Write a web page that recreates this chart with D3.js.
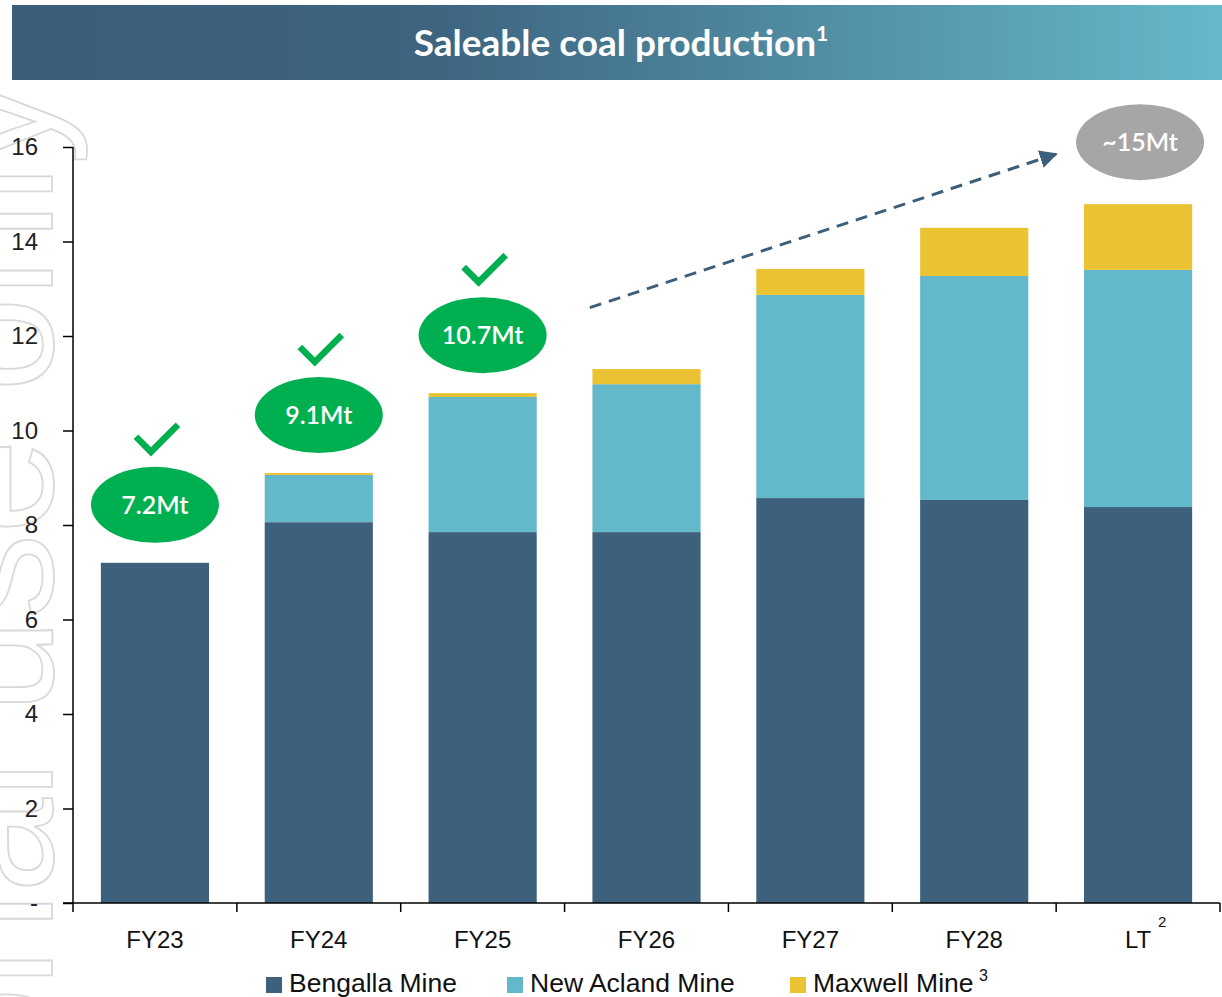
<!DOCTYPE html>
<html>
<head>
<meta charset="utf-8">
<script src="https://cdn.jsdelivr.net/npm/d3@7"></script>
<style>
  body { margin: 0; background: #fff; }
  svg { display: block; }
</style>
</head>
<body>
<script>
// chart data
var categories = ["FY23", "FY24", "FY25", "FY26", "FY27", "FY28", "LT"];
var bengalla   = [7.2, 8.06, 7.85, 7.85, 8.57, 8.53, 8.38];
var newAcland  = [0, 1.0, 2.86, 3.13, 4.30, 4.74, 5.02];
var maxwell    = [0, 0.04, 0.08, 0.32, 0.55, 1.02, 1.39];
var seriesNames = ["Bengalla Mine", "New Acland Mine", "Maxwell Mine"];
var seriesKeys = ["bengalla", "newAcland", "maxwell"];
var yTicks = [0, 2, 4, 6, 8, 10, 12, 14, 16];
var doneLabels = ["7.2Mt", "9.1Mt", "10.7Mt"];   // first three years, achieved
var targetLabel = "~15Mt";

var colors = { bengalla: "#3d617c", newAcland: "#63b8c9", maxwell: "#ebc232" };

var W = 1222, H = 997;
var svg = d3.select("body").append("svg").attr("width", W).attr("height", H);

// watermark (cut off by the left edge, as in the source)
svg.append("text")
  .attr("transform", "translate(52,80) rotate(-90)")
  .attr("text-anchor", "end")
  .style("font-family", "Liberation Sans, Arial, sans-serif")
  .style("font-size", "170px")
  .attr("fill", "none")
  .attr("stroke", "#d9d9d9")
  .attr("stroke-width", 1.8)
  .text("For personal use only");

// title bar
var grad = svg.append("defs").append("linearGradient").attr("id", "tg");
grad.append("stop").attr("offset", "0%").attr("stop-color", "#3c5d78");
grad.append("stop").attr("offset", "35%").attr("stop-color", "#3e6480");
grad.append("stop").attr("offset", "100%").attr("stop-color", "#65b9ca");
svg.append("rect").attr("x", 12).attr("y", 5).attr("width", W - 12).attr("height", 75)
  .attr("fill", "url(#tg)");
var title = svg.append("text")
  .attr("x", 621).attr("y", 56)
  .attr("text-anchor", "middle")
  .style("font-family", "Lato, sans-serif")
  .style("font-weight", "bold")
  .style("font-size", "37px")
  .attr("fill", "#fff");
title.append("tspan").text("Saleable coal production");
title.append("tspan").attr("dy", -15).style("font-size", "21px").text("1");

// scales
var x = d3.scaleBand().domain(categories).range([73, 1220])
  .paddingInner(0.34).paddingOuter(0.17);
var y = d3.scaleLinear().domain([0, 16]).range([903, 147]);
var xu = d3.scaleLinear().domain([0, categories.length]).range(x.range()); // band units

var rows = categories.map(function(c, i) {
  return { cat: c, bengalla: bengalla[i], newAcland: newAcland[i], maxwell: maxwell[i] };
});
var stacked = d3.stack().keys(seriesKeys)(rows);

// bars
svg.append("g").selectAll("g").data(stacked).join("g")
  .attr("fill", function(d) { return colors[d.key]; })
  .selectAll("rect").data(function(d) { return d; }).join("rect")
    .attr("x", function(d) { return x(d.data.cat); })
    .attr("width", x.bandwidth())
    .attr("y", function(d) { return y(d[1]); })
    .attr("height", function(d) { return Math.max(0, y(d[0]) - y(d[1])); });

// y axis
var yAxis = svg.append("g").attr("transform", "translate(73,0)")
  .call(d3.axisLeft(y).tickValues(yTicks).tickSize(10).tickPadding(25)
    .tickFormat(function(d) { return d === 0 ? "-" : d; }));
yAxis.select(".domain").attr("d", "M0,147V912").attr("stroke", "#000").attr("stroke-width", 1.5);
yAxis.selectAll(".tick line").attr("stroke", "#000").attr("stroke-width", 1.5);
yAxis.selectAll(".tick text")
  .style("font-family", "Liberation Sans, Arial, sans-serif")
  .style("font-size", "24px").attr("fill", "#222");

// x axis
var xAxis = svg.append("g").attr("transform", "translate(0,903)")
  .call(d3.axisBottom(x).tickSize(0).tickPadding(28));
xAxis.select(".domain").attr("d", "M63,0H1220").attr("stroke", "#000").attr("stroke-width", 1.5);
xAxis.selectAll(".tick text")
  .style("font-family", "Liberation Sans, Arial, sans-serif")
  .style("font-size", "24px").attr("fill", "#111");
xAxis.selectAll(".bound").data(d3.range(1, categories.length + 1)).join("line")
  .attr("class", "bound")
  .attr("x1", function(i) { return xu(i); }).attr("x2", function(i) { return xu(i); })
  .attr("y1", 0).attr("y2", 9)
  .attr("stroke", "#000").attr("stroke-width", 1.5);
// superscript on LT
svg.append("text")
  .attr("x", x("LT") + x.bandwidth() / 2 + 24).attr("y", 927)
  .attr("text-anchor", "middle")
  .style("font-family", "Liberation Sans, Arial, sans-serif")
  .style("font-size", "15px").attr("fill", "#111").text("2");

// achieved labels: green ellipses with tick marks
doneLabels.forEach(function(lbl, i) {
  var c = categories[i];
  var cx = x(c) + x.bandwidth() / 2;
  var total = bengalla[i] + newAcland[i] + maxwell[i];
  var cy = y(total) - 58;
  svg.append("ellipse").attr("cx", cx).attr("cy", cy).attr("rx", 64).attr("ry", 38)
    .attr("fill", "#00b050");
  svg.append("text").attr("x", cx).attr("y", cy + 9)
    .attr("text-anchor", "middle")
    .style("font-family", "Lato, sans-serif").style("font-weight", "600")
    .style("font-size", "25px").attr("fill", "#fff").text(lbl);
  var vx = cx - 4, vy = cy - 53;
  svg.append("path")
    .attr("d", "M" + (vx - 15) + "," + (vy - 15) + "L" + vx + "," + vy + "L" + (vx + 27) + "," + (vy - 27))
    .attr("fill", "none").attr("stroke", "#00b050").attr("stroke-width", 6.5);
});

// dashed trend arrow to long-term target
svg.append("defs").append("marker")
  .attr("id", "ah").attr("viewBox", "0 0 10 10").attr("refX", 9).attr("refY", 5)
  .attr("markerWidth", 6).attr("markerHeight", 6).attr("markerUnits", "strokeWidth")
  .attr("orient", "auto")
  .append("path").attr("d", "M0,0L10,5L0,10Z").attr("fill", "#3d5f7b");
svg.append("line")
  .attr("x1", xu(3.154)).attr("y1", y(12.6))
  .attr("x2", xu(6.0)).attr("y2", y(15.85))
  .attr("stroke", "#3d5f7b").attr("stroke-width", 3)
  .attr("stroke-dasharray", "12,8")
  .attr("marker-end", "url(#ah)");

// long-term target bubble
var lx = x("LT") + x.bandwidth() / 2 + 2;
var ly = y(bengalla[6] + newAcland[6] + maxwell[6]) - 62;
svg.append("ellipse").attr("cx", lx).attr("cy", ly).attr("rx", 64).attr("ry", 38).attr("fill", "#a6a6a6");
svg.append("text").attr("x", lx).attr("y", ly + 9).attr("text-anchor", "middle")
  .style("font-family", "Lato, sans-serif").style("font-weight", "600")
  .style("font-size", "25px").attr("fill", "#fff").text(targetLabel);

// legend
var legX = [266, 507, 790];
var leg = svg.append("g").selectAll("g").data(seriesKeys).join("g")
  .attr("transform", function(d, i) { return "translate(" + legX[i] + ",977)"; });
leg.append("rect").attr("width", 16).attr("height", 16)
  .attr("fill", function(d) { return colors[d]; });
leg.append("text").attr("x", 23).attr("y", 15)
  .style("font-family", "Liberation Sans, Arial, sans-serif")
  .style("font-size", "26.5px").attr("fill", "#111")
  .text(function(d, i) { return seriesNames[i]; });
svg.append("text").attr("x", 979).attr("y", 981)
  .style("font-family", "Liberation Sans, Arial, sans-serif")
  .style("font-size", "16px").attr("fill", "#111").text("3");
</script>
</body>
</html>
